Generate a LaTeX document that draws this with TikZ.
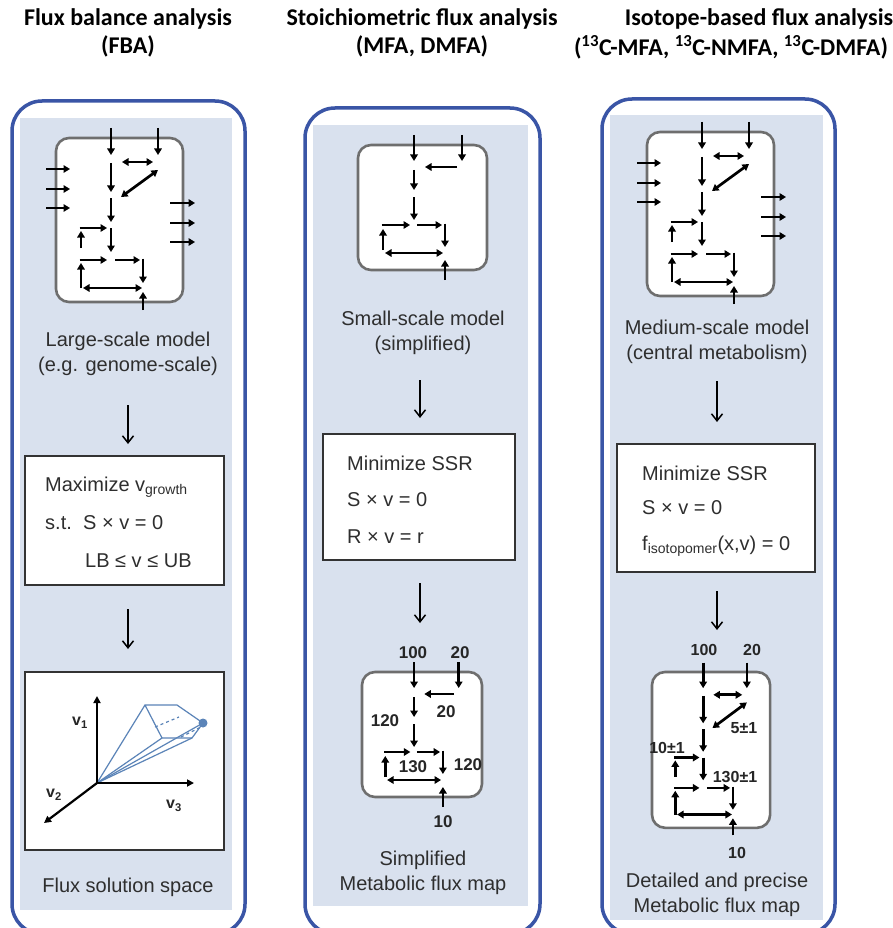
\documentclass[tikz,border=0pt]{standalone}
\usepackage{fontspec}
\setmainfont{Liberation Sans}
\newfontfamily\hdrfont{Carlito}
\usetikzlibrary{arrows.meta}

\definecolor{frameblue}{HTML}{3A55A6}
\definecolor{panelbg}{HTML}{D9E1EE}
\definecolor{netgray}{HTML}{6E6E6E}
\definecolor{txt}{HTML}{2E2E2E}
\definecolor{coneblue}{HTML}{5B84B8}

\tikzset{
  frame/.style={draw=frameblue, line width=3.5pt, rounded corners=30pt},
  panel/.style={fill=panelbg, draw=none},
  cell/.style={draw=netgray, line width=2.6pt, fill=white, rounded corners=13pt},
  rx/.style={line width=2.7pt, -{Triangle[length=6.5pt,width=7.5pt]}},
  rxx/.style={line width=2.7pt, {Triangle[length=6.5pt,width=7.5pt]}-{Triangle[length=6.5pt,width=7.5pt]}},
  flow/.style={line width=1.5pt, -{Straight Barb[length=7pt,width=11pt]}},
  eqbox/.style={draw=black!80, line width=2pt, fill=white, inner sep=0pt},
  lbl/.style={font=\fontsize{20}{25}\selectfont, text=txt, align=center},
  eq/.style={font=\fontsize{20}{24}\selectfont, text=txt, anchor=west, inner sep=0pt},
  hd/.style={font=\hdrfont\bfseries\fontsize{24}{28}\selectfont, align=center},
  num/.style={font=\bfseries\fontsize{17}{20}\selectfont, text=black!85, inner sep=0pt},
  numb/.style={font=\bfseries\fontsize{16}{18}\selectfont, text=black!85, inner sep=0pt},
  axis/.style={line width=2.2pt, -{Triangle[length=7pt,width=7pt]}},
  axlbl/.style={font=\bfseries\fontsize{16}{18}\selectfont, text=black!85, inner sep=0pt},
  cone/.style={draw=coneblue, line width=1.2pt, line join=round},
  bignet/.pic={
    \draw[cell] (0,0) rectangle (127,164);
    \draw[rx] (55,-10) -- (55,17);
    \draw[rx] (102,-10) -- (102,17);
    \draw[rxx] (66,24) -- (97,24);
    \draw[rxx] (102,32) -- (65,59);
    \draw[rx] (55,25) -- (55,54);
    \draw[rx] (55,60) -- (55,84);
    \draw[rx] (55,90) -- (55,114);
    \draw[rx] (25,110) -- (25,93);
    \draw[rx] (23.7,90) -- (51,90);
    \draw[rx] (25,150) -- (25,125);
    \draw[rx] (23.7,122) -- (51,122);
    \draw[rx] (59,122) -- (84,122);
    \draw[rx] (87,120.7) -- (87,145);
    \draw[rxx] (27,150) -- (86,150);
    \draw[rx] (87,172) -- (87,154);
  },
  bigsides/.pic={
    \foreach \yy in {31,51,70} {\draw[rx] (-10,\yy) -- (14,\yy);}
    \foreach \yy in {65,85,104} {\draw[rx] (114,\yy) -- (139,\yy);}
  },
  smallnet/.pic={
    \draw[cell] (0,0) rectangle (129,125);
    \draw[rx] (56,-10) -- (56,16);
    \draw[rx] (104,-10) -- (104,16);
    \draw[rx] (99,22) -- (67,22);
    \draw[rx] (56,25) -- (56,45);
    \draw[rx] (56,52) -- (56,75);
    \draw[rx] (23.7,80) -- (52,80);
    \draw[rx] (59,80) -- (84,80);
    \draw[rx] (87,78.7) -- (87,102);
    \draw[rx] (25,105) -- (25,84);
    \draw[rxx] (27,108) -- (85,108);
    \draw[rx] (87,135) -- (87,115);
  },
}

\begin{document}
\begin{tikzpicture}[x=1pt,y=-1pt]
\useasboundingbox (0,0) rectangle (892,928);
\fill[white] (0,0) rectangle (892,928);
\clip (0,0) rectangle (892,928);

% headers
\node[hd] (h1) at (128,33) {Flux balance analysis\\(FBA)};
\node[hd] (h2) at (422,33) {Stoichiometric flux analysis\\(MFA, DMFA)};
\node[hd] (h3a) at (759,19) {Isotope-based flux analysis};
\node[hd] (h3b) at (731,47) {(\textsuperscript{13}C-MFA, \textsuperscript{13}C-NMFA, \textsuperscript{13}C-DMFA)};

% panels and frames
\fill[panel] (20,118) rectangle (232,910);
\fill[panel] (313,125) rectangle (528,906);
\fill[panel] (610,115) rectangle (823,920);
\draw[frame] (12,101) rectangle (245,934);
\draw[frame] (305,108) rectangle (540,934);
\draw[frame] (602,99) rectangle (835,934);

% ---------- column 1 ----------
\pic at (56,138) {bignet};
\pic at (56,138) {bigsides};
\node[lbl] (l1) at (128,354) {Large-scale model\\(e.g. genome-scale)};
\node[eqbox, minimum width=199pt, minimum height=129pt] (b1) at (124.5,520.5) {};
\node[eq] (e1a) at (45,487) {Maximize v\textsubscript{growth}};
\node[eq] (e1b) at (45,523) {s.t.};
\node[eq] (e1c) at (83,523) {S × v = 0};
\node[eq] (e1d) at (85,561) {LB ≤ v ≤ UB};
\node[eqbox, minimum width=199pt, minimum height=178pt] (fs) at (124.5,761) {};
\coordinate (O) at (97,783);
\coordinate (ax1) at (97,696);
\coordinate (ax2) at (44,823);
\coordinate (ax3) at (194,783);
\coordinate (cA) at (145,705);
\coordinate (cB) at (177,705);
\coordinate (cC) at (203,723);
\coordinate (cD) at (192,738);
\coordinate (cE) at (162,738);
\draw[cone] (cA) -- (cB) -- (cC) -- (cD) -- (cE) -- cycle;
\draw[cone] (O) -- (cA);
\draw[cone] (O) -- (cE);
\draw[cone] (O) -- (cD);
\draw[cone] (O) -- (cC);
\draw[cone, dashed] (155,727) -- (179,717);
\draw[cone, dashed] (181,737) -- (201,727);
\fill[coneblue] (cC) circle (4.5);
\draw[axis] (O) -- (ax1);
\draw[axis] (O) -- (ax2);
\draw[axis] (O) -- (ax3);
\node[axlbl] (v1) at (80,723) {v\textsubscript{1}};
\node[axlbl] (v2) at (54,795) {v\textsubscript{2}};
\node[axlbl] (v3) at (174,806) {v\textsubscript{3}};
\node[lbl] (t1) at (128,887) {Flux solution space};
\draw[flow, shorten <=26pt, shorten >=11pt] (l1.south) -- (l1.south |- b1.north);
\draw[flow, shorten <=23pt, shorten >=22pt] (l1.south |- b1.south) -- (l1.south |- fs.north);

% ---------- column 2 ----------
\pic at (358,145) {smallnet};
\node[lbl] (l2) at (423,333) {Small-scale model\\(simplified)};
\node[eqbox, minimum width=192pt, minimum height=126pt] (b2) at (419,497) {};
\node[eq] (e2a) at (347,463) {Minimize SSR};
\node[eq] (e2b) at (347,500) {S × v = 0};
\node[eq] (e2c) at (347,537) {R × v = r};
\pic[xscale=0.93] at (362,672) {smallnet};
\node[num] (n2a) at (413,653) {100};
\node[num] (n2b) at (460,653) {20};
\node[num] (n2c) at (446,712) {20};
\node[num] (n2d) at (385,721) {120};
\node[num] (n2e) at (468,765) {120};
\node[num] (n2f) at (413,767) {130};
\node[num] (n2g) at (443,822) {10};
\node[lbl] (t2) at (423,873) {Simplified\\Metabolic flux map};
\draw[flow, shorten <=20pt, shorten >=16pt] (420,360) -- (420,434);
\draw[flow, shorten <=22pt, shorten >=14pt] (b2.south -| 420,0) -- (420,637);

% ---------- column 3 ----------
\pic at (647,132) {bignet};
\pic at (647,132) {bigsides};
\node[lbl] (l3) at (717,342) {Medium-scale model\\(central metabolism)};
\node[eqbox, minimum width=198pt, minimum height=128pt] (b3) at (716,508) {};
\node[eq] (e3a) at (642,473) {Minimize SSR};
\node[eq] (e3b) at (642,508) {S × v = 0};
\node[eq] (e3c) at (642,546) {f\textsubscript{isotopomer}(x,v) = 0};
\pic[xscale=0.93, yscale=0.95] at (652,672) {bignet};
\node[numb] (n3a) at (704,650) {100};
\node[numb] (n3b) at (752,650) {20};
\node[numb] (n3c) at (744,728) {5±1};
\node[numb] (n3d) at (667,748) {10±1};
\node[numb] (n3e) at (735,777) {130±1};
\node[numb] (n3f) at (737,853) {10};
\node[lbl] (t3) at (717,895) {Detailed and precise\\Metabolic flux map};
\draw[flow, shorten <=14pt, shorten >=21pt] (l3.south) -- (l3.south |- b3.north);
\draw[flow, shorten <=18pt, shorten >=12pt] (l3.south |- b3.south) -- (717,642);
\end{tikzpicture}
\end{document}
